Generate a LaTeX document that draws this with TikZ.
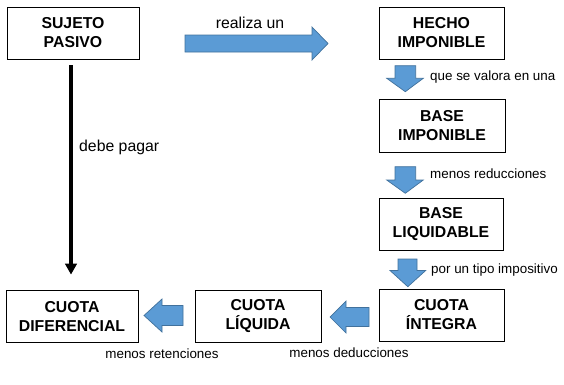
\documentclass[tikz,border=0pt]{standalone}
\usepackage{fontspec}
\setmainfont{Liberation Sans}
\usetikzlibrary{arrows.meta}
\definecolor{arrfill}{HTML}{5B9BD5}
\definecolor{arrline}{HTML}{41719C}
\begin{document}
\begin{tikzpicture}[x=1pt,y=-1pt,
  box/.style={draw=black,line width=0.8pt,fill=white,inner sep=0pt,align=center,
    font=\bfseries\fontsize{15.8}{19}\selectfont},
  blockarrow/.style={fill=arrfill,draw=arrline,line width=0.7pt,line join=miter},
  biglabel/.style={inner sep=0pt,font=\fontsize{15.8}{18}\selectfont},
  smalllabel/.style={inner sep=0pt,font=\fontsize{13.4}{15}\selectfont}]
\useasboundingbox (0,0) rectangle (564,384);
% boxes
\node[box,minimum width=132pt,minimum height=52pt] (sujeto) at (73,33) {SUJETO\\PASIVO};
\node[box,minimum width=125pt,minimum height=52pt] (hecho) at (441.5,33) {HECHO\\IMPONIBLE};
\node[box,minimum width=126pt,minimum height=53pt] (baseimp) at (442,125.5) {BASE\\IMPONIBLE};
\node[box,minimum width=124pt,minimum height=52pt] (baseliq) at (441,224) {BASE\\LIQUIDABLE};
\node[box,minimum width=125pt,minimum height=52pt] (integra) at (441.5,315) {CUOTA\\ÍNTEGRA};
\node[box,minimum width=126pt,minimum height=52pt] (liquida) at (258,316) {CUOTA\\LÍQUIDA};
\node[box,minimum width=132pt,minimum height=52pt] (diferencial) at (72,316.5) {CUOTA\\DIFERENCIAL};
% block arrows
\draw[blockarrow] (185,35) -- (312,35) -- (312,27) -- (328,43.5) -- (312,60) -- (312,52) -- (185,52) -- cycle;
\draw[blockarrow] (395,65.7) -- (415.7,65.7) -- (415.7,78.3) -- (423.3,78.3) -- (405.3,91.7) -- (386.7,78.3) -- (395,78.3) -- cycle;
\draw[blockarrow] (395,166.7) -- (415.7,166.7) -- (415.7,180) -- (423.3,180) -- (405.3,193.3) -- (386.7,180) -- (395,180) -- cycle;
\draw[blockarrow] (398,259) -- (417,259) -- (417,270.5) -- (425.7,270.5) -- (407.8,286.7) -- (390,270.5) -- (398,270.5) -- cycle;
\draw[blockarrow] (183,305.5) -- (162,305.5) -- (162,299) -- (144,315.5) -- (162,332) -- (162,325.5) -- (183,325.5) -- cycle;
\draw[blockarrow] (369,307.5) -- (346,307.5) -- (346,301) -- (330,317) -- (346,333) -- (346,326.5) -- (369,326.5) -- cycle;
% black arrow
\draw[line width=3.6pt,-{Triangle[width=11.5pt,length=11pt]},shorten <=6pt,shorten >=15.5pt]
  ([xshift=-2pt]sujeto.south) -- ([xshift=-2pt]sujeto.south |- diferencial.north);
% labels
\node[biglabel] (l1) at (250,23) {realiza un};
\node[biglabel,anchor=west] (l2) at (79,147) {debe pagar};
\node[smalllabel,anchor=west] (l3) at (430,77) {que se valora en una};
\node[smalllabel,anchor=west] (l4) at (430,174) {menos reducciones};
\node[smalllabel,anchor=west] (l5) at (431,270) {por un tipo impositivo};
\node[smalllabel] (l6) at (162,354) {menos retenciones};
\node[smalllabel] (l7) at (349,353) {menos deducciones};
\end{tikzpicture}
\end{document}
